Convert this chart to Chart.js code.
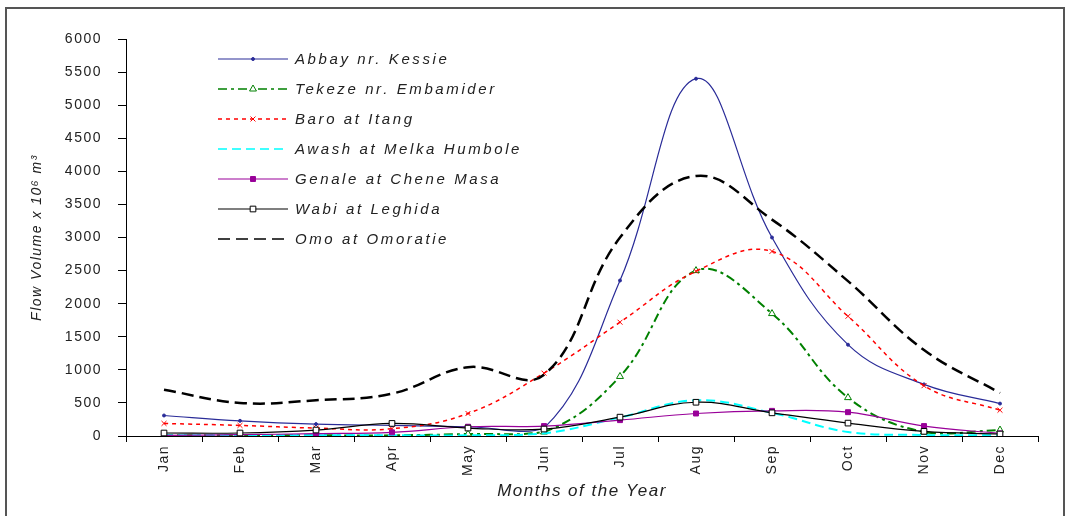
<!DOCTYPE html>
<html>
<head>
<meta charset="utf-8">
<script src="https://cdn.jsdelivr.net/npm/chart.js@4/dist/chart.umd.min.js"></script>
<style>
  html, body { margin: 0; padding: 0; background: #fff; }
  #wrap { width: 1066px; height: 516px; position: relative; }
</style>
</head>
<body>
<div id="wrap"><canvas id="flow"></canvas></div>
<script>
const months = ['Jan', 'Feb', 'Mar', 'Apr', 'May', 'Jun', 'Jul', 'Aug', 'Sep', 'Oct', 'Nov', 'Dec'];
const yTicks = [0, 500, 1000, 1500, 2000, 2500, 3000, 3500, 4000, 4500, 5000, 5500, 6000];

const abbay  = [310, 230, 180, 160, 140, 120, 2350, 5400, 3000, 1380, 780, 490];
const tekeze = [10, 10, 10, 10, 30, 60, 900, 2500, 1850, 580, 60, 90];
const baro   = [190, 160, 120, 110, 340, 950, 1720, 2490, 2790, 1810, 760, 390];
const awash  = [10, 10, 10, 10, 10, 40, 280, 540, 350, 60, 15, 10];
const genale = [10, 20, 35, 55, 140, 150, 240, 340, 380, 360, 150, 40];
const wabi   = [45, 45, 90, 190, 120, 105, 285, 510, 350, 195, 70, 30];
const omo    = [700, 500, 540, 640, 1040, 925, 3000, 3930, 3270, 2340, 1300, 650];

const seriesNames = ['Abbay nr. Kessie', 'Tekeze nr. Embamider', 'Baro at Itang',
  'Awash at Melka Humbole', 'Genale at Chene Masa', 'Wabi at Leghida', 'Omo at Omoratie'];

const FONT = '"Liberation Sans", Arial, sans-serif';

function series(i, data, color, width, dash, style, radius, fill) {
  return {
    label: seriesNames[i], data: data,
    borderColor: color, borderWidth: width, borderDash: dash,
    pointStyle: style, pointRadius: radius, pointHoverRadius: radius,
    pointBorderColor: color, pointBackgroundColor: fill, pointBorderWidth: 1,
    tension: 0.4, fill: false, order: 6 - i
  };
}

const datasets = [
  series(0, abbay, '#2a2c98', 1.2, [], 'circle', 1.5, '#2a2c98'),
  series(1, tekeze, '#008000', 2, [9, 4, 3, 4], 'triangle', 4, '#ffffff'),
  series(2, baro, '#ff0000', 1.5, [4, 4], 'crossRot', 3.5, '#ff0000'),
  series(3, awash, '#00ffff', 2, [9, 5], 'circle', 0, '#00ffff'),
  series(4, genale, '#990099', 1.2, [], 'rect', 3.5, '#990099'),
  series(5, wabi, '#000000', 1.2, [], 'rect', 4, '#ffffff'),
  series(6, omo, '#000000', 2.5, [12, 6], 'circle', 0, '#000000')
];

// frame round the whole picture, letter spacing for the wide Excel-like text
const framePlugin = {
  id: 'frame',
  beforeLayout(chart) { chart.ctx.letterSpacing = '1.5px'; },
  beforeDraw(chart) {
    const ctx = chart.ctx;
    ctx.letterSpacing = '1.5px';
    ctx.save();
    ctx.strokeStyle = '#555';
    ctx.lineWidth = 2;
    ctx.strokeRect(6, 8, 1058, 520);
    ctx.restore();
  }
};

// legend drawn inside the plot like the original: line sample with marker, then name
const legendPlugin = {
  id: 'insideLegend',
  afterDraw(chart) {
    const ctx = chart.ctx;
    const x0 = chart.chartArea.left + 92;
    const y0 = chart.chartArea.top + 20;
    ctx.save();
    chart.data.datasets.forEach((ds, i) => {
      const y = y0 + i * 30;
      ctx.strokeStyle = ds.borderColor;
      ctx.lineWidth = Math.min(ds.borderWidth, 1.5);
      ctx.setLineDash(ds.borderDash);
      ctx.beginPath();
      ctx.moveTo(x0, y);
      ctx.lineTo(x0 + 70, y);
      ctx.stroke();
      ctx.setLineDash([]);
      if (ds.pointRadius > 0) {
        ctx.fillStyle = ds.pointBackgroundColor;
        ctx.strokeStyle = ds.pointBorderColor;
        ctx.lineWidth = 1;
        Chart.helpers.drawPoint(ctx, { pointStyle: ds.pointStyle, radius: ds.pointRadius, rotation: 0, borderWidth: 1 }, x0 + 35, y);
      }
      ctx.letterSpacing = '2.6px';
      ctx.fillStyle = '#222';
      ctx.font = 'italic 15px ' + FONT;
      ctx.textBaseline = 'middle';
      ctx.textAlign = 'left';
      ctx.fillText(ds.label, x0 + 77, y + 1);
    });
    ctx.restore();
  }
};

new Chart(document.getElementById('flow'), {
  type: 'line',
  data: { labels: months, datasets: datasets },
  plugins: [framePlugin, legendPlugin],
  options: {
    responsive: true,
    maintainAspectRatio: false,
    animation: false,
    events: [],
    layout: { padding: { top: 39, right: 28, left: 0, bottom: 0 } },
    plugins: { legend: { display: false }, tooltip: { enabled: false } },
    scales: {
      x: {
        type: 'category',
        offset: true,
        afterFit(s) { s.height = 80; },
        grid: { offset: true, drawOnChartArea: false, tickLength: 6, color: '#000', tickColor: '#000' },
        border: { color: '#000', width: 1 },
        ticks: {
          autoSkip: false, minRotation: 90, maxRotation: 90, padding: 3,
          color: '#222', font: { family: FONT, size: 14 }
        },
        title: {
          display: true, text: 'Months of the Year', color: '#222',
          font: { family: FONT, size: 17, style: 'italic' },
          padding: { top: 0, bottom: 15 }
        }
      },
      y: {
        min: 0, max: 6000,
        afterFit(s) { s.width = 126; },
        afterBuildTicks(s) { s.ticks = yTicks.map(v => ({ value: v })); },
        grid: { drawOnChartArea: false, tickLength: 8, color: '#000', tickColor: '#000' },
        border: { color: '#000', width: 1 },
        ticks: { padding: 16, color: '#222', font: { family: FONT, size: 14 }, callback: v => String(v) },
        title: {
          display: true, text: 'Flow Volume x 10⁶ m³', color: '#222',
          font: { family: FONT, size: 14, style: 'italic' },
          padding: { top: 29, bottom: 0 }
        }
      }
    }
  }
});
</script>
</body>
</html>
